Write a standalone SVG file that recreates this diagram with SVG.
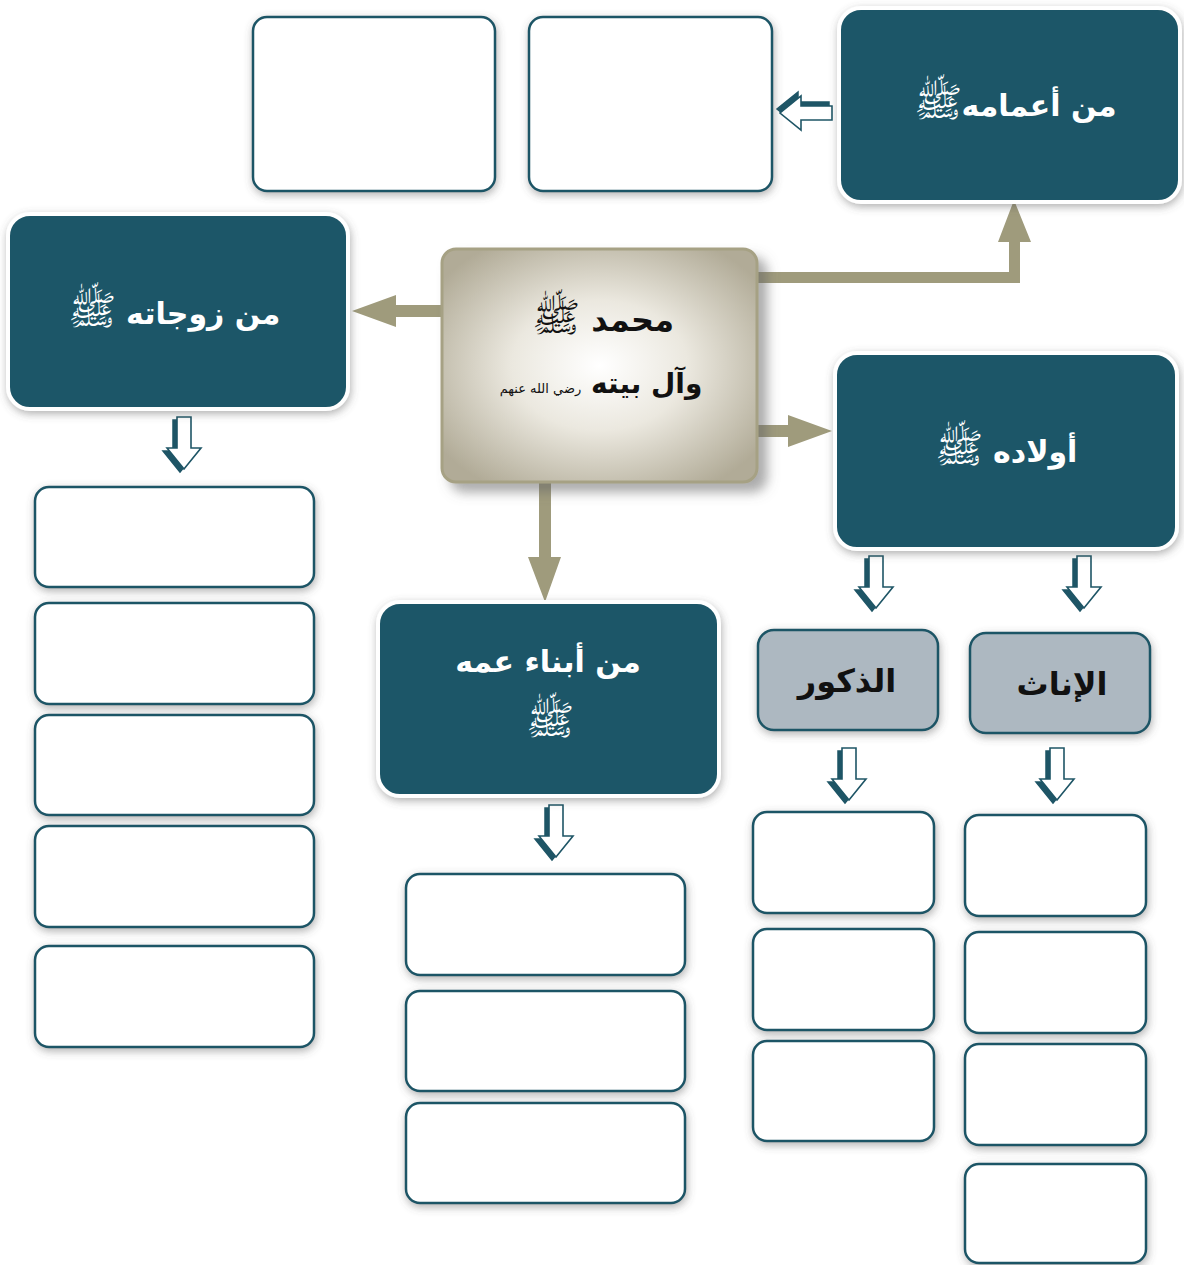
<svg xmlns="http://www.w3.org/2000/svg" width="1184" height="1265" viewBox="0 0 1184 1265">
<defs>
<filter id="sh" x="-20%" y="-20%" width="140%" height="140%"><feDropShadow dx="1" dy="3" stdDeviation="4" flood-color="#555" flood-opacity="0.45"/></filter>
<filter id="shc" x="-20%" y="-20%" width="140%" height="140%"><feDropShadow dx="9" dy="9" stdDeviation="6" flood-color="#666" flood-opacity="0.55"/></filter>
<radialGradient id="cg" cx="0.5" cy="0.5" r="0.62">
<stop offset="0" stop-color="#ffffff"/>
<stop offset="0.45" stop-color="#ebe8df"/>
<stop offset="1" stop-color="#b1ab97"/>
</radialGradient>
<path id="ha" d="M-7,0 H7 V31 H17 L0,52 L-17,31 H-7 Z"/>
<style>
.box{fill:#fff;stroke:#1e5566;stroke-width:2.5;filter:url(#sh)}
.teal{fill:#1e5667;stroke:#fff;stroke-width:4;filter:url(#sh)}
.gray{fill:#adb8c1;stroke:#1e5566;stroke-width:2.5;filter:url(#sh)}
.wt{fill:#fff;font-family:"DejaVu Sans",sans-serif;font-weight:bold;font-size:30px;text-anchor:middle}
.bt{fill:#111;font-family:"DejaVu Sans",sans-serif;font-weight:bold;font-size:32px;text-anchor:middle}
.hon{font-weight:normal;font-size:40px}
.sm{font-weight:normal;font-size:13px}
.con{fill:#9f9b7c}
.sd{fill:#1e5566;stroke:#1e5566;stroke-width:1.5}
.mn{fill:#fff;stroke:#1e5566;stroke-width:1.6}
</style>
</defs>
<rect width="1184" height="1265" fill="#fff"/>

<g id="connectors">
<path class="con" d="M441,305 H396 V295 L352,311 L396,327 V317 H441 Z"/>
<path class="con" d="M757,272 H1009 V242 H998 L1014,200 L1031,242 H1020 V283 H757 Z"/>
<path class="con" d="M757,425 H788 V415 L832,431 L788,447 V437 H757 Z"/>
<path class="con" d="M539,482 H551 V557 H561 L545,602 L528,557 H539 Z"/>
</g>

<g id="hollow-arrows">
<g transform="translate(184,417)"><use href="#ha" class="sd" transform="translate(-4,3)"/><use href="#ha" class="mn"/></g>
<g transform="translate(556,805)"><use href="#ha" class="sd" transform="translate(-4,3)"/><use href="#ha" class="mn"/></g>
<g transform="translate(876,556)"><use href="#ha" class="sd" transform="translate(-4,3)"/><use href="#ha" class="mn"/></g>
<g transform="translate(1084,556)"><use href="#ha" class="sd" transform="translate(-4,3)"/><use href="#ha" class="mn"/></g>
<g transform="translate(849,748)"><use href="#ha" class="sd" transform="translate(-4,3)"/><use href="#ha" class="mn"/></g>
<g transform="translate(1057,748)"><use href="#ha" class="sd" transform="translate(-4,3)"/><use href="#ha" class="mn"/></g>
<g transform="translate(832,113) rotate(90)"><use href="#ha" class="sd" transform="translate(-4,3)"/><use href="#ha" class="mn"/></g>
</g>

<g id="n-center">
<rect x="442" y="249" width="315" height="233" rx="14" fill="url(#cg)" stroke="#a6a184" stroke-width="3" filter="url(#shc)"/>
<text class="bt" x="603" y="331">محمد <tspan class="hon">ﷺ</tspan></text>
<text class="bt" x="601" y="393" style="font-size:28px">وآل بيته <tspan class="sm">رضي الله عنهم</tspan></text>
</g>

<g id="n-aamam">
<rect class="teal" x="839" y="8" width="341" height="194" rx="22"/>
<text class="wt" x="1015" y="116">من أعمامه<tspan class="hon">ﷺ</tspan></text>
</g>
<g id="n-zawjat">
<rect class="teal" x="8" y="214" width="340" height="195" rx="22"/>
<text class="wt" x="174" y="324">من زوجاته <tspan class="hon">ﷺ</tspan></text>
</g>
<g id="n-awlad">
<rect class="teal" x="835" y="353" width="342" height="196" rx="22"/>
<text class="wt" x="1006" y="462">أولاده <tspan class="hon">ﷺ</tspan></text>
</g>
<g id="n-abna">
<rect class="teal" x="378" y="602" width="341" height="194" rx="22"/>
<text class="wt" x="548" y="672">من أبناء عمه</text>
<text class="wt hon" x="550" y="734">ﷺ</text>
</g>
<g id="n-dhukur">
<rect class="gray" x="758" y="630" width="180" height="100" rx="16"/>
<text class="bt" x="847" y="692">الذكور</text>
</g>
<g id="n-inath">
<rect class="gray" x="970" y="633" width="180" height="100" rx="16"/>
<text class="bt" x="1062" y="695">الإناث</text>
</g>

<g id="top-boxes">
<rect class="box" x="253" y="17" width="242" height="174" rx="14"/>
<rect class="box" x="529" y="17" width="243" height="174" rx="14"/>
</g>
<g id="zawjat-boxes">
<rect class="box" x="35" y="487" width="279" height="100" rx="14"/>
<rect class="box" x="35" y="603" width="279" height="101" rx="14"/>
<rect class="box" x="35" y="715" width="279" height="100" rx="14"/>
<rect class="box" x="35" y="826" width="279" height="101" rx="14"/>
<rect class="box" x="35" y="946" width="279" height="101" rx="14"/>
</g>
<g id="abna-boxes">
<rect class="box" x="406" y="874" width="279" height="101" rx="14"/>
<rect class="box" x="406" y="991" width="279" height="100" rx="14"/>
<rect class="box" x="406" y="1103" width="279" height="100" rx="14"/>
</g>
<g id="dhukur-boxes">
<rect class="box" x="753" y="812" width="181" height="101" rx="14"/>
<rect class="box" x="753" y="929" width="181" height="101" rx="14"/>
<rect class="box" x="753" y="1041" width="181" height="100" rx="14"/>
</g>
<g id="inath-boxes">
<rect class="box" x="965" y="815" width="181" height="101" rx="14"/>
<rect class="box" x="965" y="932" width="181" height="101" rx="14"/>
<rect class="box" x="965" y="1044" width="181" height="101" rx="14"/>
<rect class="box" x="965" y="1164" width="181" height="99" rx="14"/>
</g>
</svg>
